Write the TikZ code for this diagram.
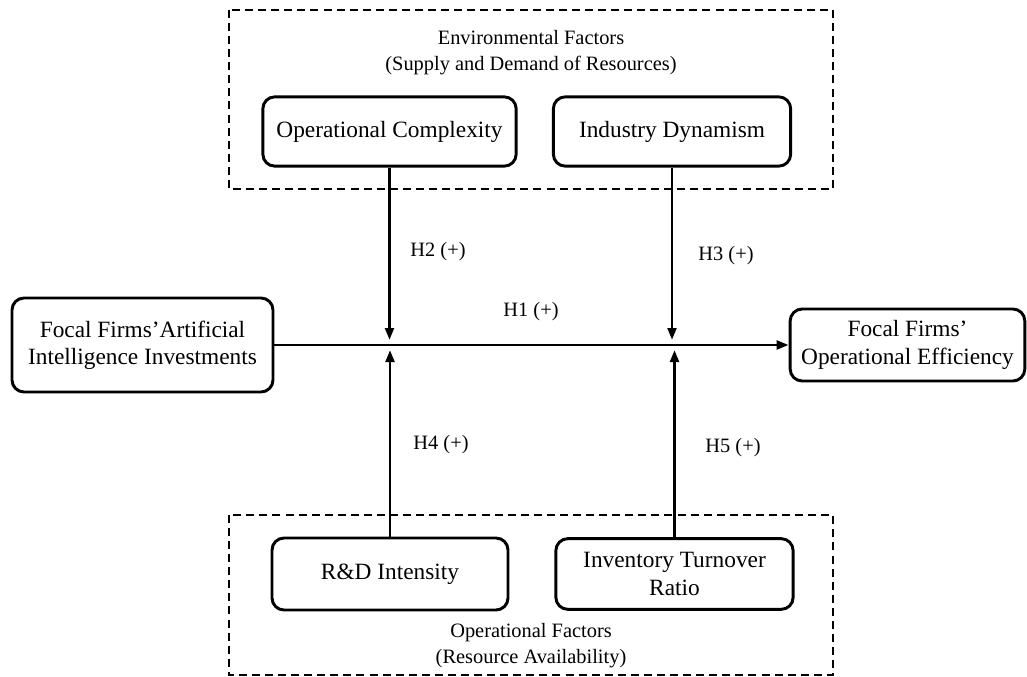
\documentclass[tikz,border=0pt]{standalone}
\usepackage{fontspec}
\setmainfont{Liberation Serif}
\usetikzlibrary{arrows.meta}

\tikzset{
	factor/.style={draw,line width=2.2pt,rounded corners=9pt,align=center,
		font=\fontsize{17.5}{20.5}\selectfont},
	group/.style={draw,line width=1.1pt,dash pattern=on 6pt off 3.8pt},
	grouptitle/.style={align=center,font=\fontsize{15.3}{19}\selectfont},
	hyp/.style={font=\fontsize{15.3}{18}\selectfont},
	arr/.style={line width=2.2pt,-{Triangle[length=9pt,width=6.5pt]}}
}

\begin{document}
\begin{tikzpicture}[x=0.75pt,y=-0.75pt]
	\useasboundingbox (0,0) rectangle (1027,677);
	% dashed groups
	\draw[group] (229,10) rectangle (833,189);
	\draw[group] (229,515) rectangle (833,675);
	\node[grouptitle] (envt) at (531,52.5) {Environmental Factors\\(Supply and Demand of Resources)};
	\node[grouptitle] (opt) at (531,645.5) {Operational Factors\\(Resource Availability)};
	% factors
	\node[factor,minimum width=195.75pt,minimum height=70.5pt] (ai) at (142.5,345) {Focal Firms’Artificial\\Intelligence Investments};
	\node[factor,minimum width=176pt,minimum height=54pt] (eff) at (907.5,345) {Focal Firms’\\Operational Efficiency};
	\node[factor,minimum width=190pt,minimum height=52pt] (oc) at (389.5,131.5) {Operational Complexity};
	\node[factor,minimum width=178pt,minimum height=52pt] (id) at (672,131.5) {Industry Dynamism};
	\node[factor,minimum width=177pt,minimum height=54pt] (rd) at (390,574) {R\&D Intensity};
	\node[factor,minimum width=178pt,minimum height=53pt] (it) at (674.5,574) {Inventory Turnover\\Ratio};
	% arrow ends on the main path
	\coordinate (h2end) at (389.5,340);
	\coordinate (h3end) at (672,340);
	\coordinate (h4end) at (390,350);
	\coordinate (h5end) at (674.5,350);
	% main effect
	\draw[arr] (ai.east) -- (eff.west);
	\draw[arr] (oc.south) -- (h2end);
	\draw[arr] (id.south) -- (h3end);
	\draw[arr] (rd.north) -- (h4end);
	\draw[arr] (it.north) -- (h5end);
	% hypotheses
	\node[hyp] (h1) at (531,312) {H1 (+)};
	\node[hyp] (h2) at (438,252) {H2 (+)};
	\node[hyp] (h3) at (726,256) {H3 (+)};
	\node[hyp] (h4) at (441,445) {H4 (+)};
	\node[hyp] (h5) at (733,448) {H5 (+)};
\end{tikzpicture}
\end{document}
